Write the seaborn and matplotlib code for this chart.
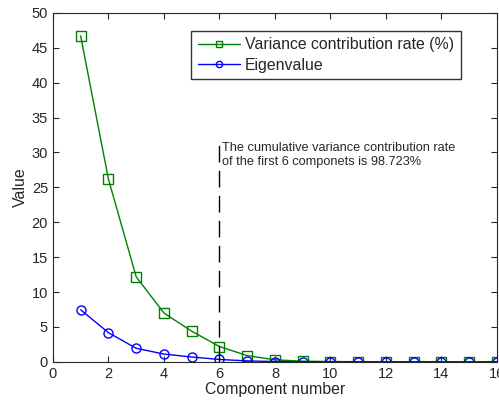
import numpy as np
import pandas as pd
import matplotlib
matplotlib.use("Agg")
import matplotlib.pyplot as plt
import seaborn as sns

components = list(range(1, 17))
variance_rate = [46.7, 26.2, 12.2, 7.0, 4.4, 2.2, 0.9, 0.3, 0.1, 0.05, 0.03, 0.02, 0.01, 0.01, 0.0, 0.0]
eigenvalue = [7.47, 4.19, 1.95, 1.12, 0.70, 0.35, 0.14, 0.05, 0.016, 0.008, 0.005, 0.003, 0.002, 0.001, 0.0, 0.0]
note = "The cumulative variance contribution rate\nof the first 6 componets is 98.723%"

sns.set_style("ticks")
plt.rcParams['font.family'] = ['Liberation Sans', 'DejaVu Sans']

df = pd.DataFrame({'Component': components, 'Variance': variance_rate, 'Eigen': eigenvalue})

fig = plt.figure(figsize=(4.99, 4.03), dpi=100)
ax = fig.add_axes([0.106, 0.102, 0.89, 0.866])

sns.lineplot(data=df, x='Component', y='Variance', ax=ax, color=(0, 0.5, 0), lw=1,
             marker='s', markersize=6.5, markerfacecolor='none', markeredgecolor=(0, 0.5, 0),
             markeredgewidth=1, label='Variance contribution rate (%)')
sns.lineplot(data=df, x='Component', y='Eigen', ax=ax, color=(0, 0, 1), lw=1,
             marker='o', markersize=6.5, markerfacecolor='none', markeredgecolor=(0, 0, 1),
             markeredgewidth=1, label='Eigenvalue')

# dashed marker at the 6th component
ax.plot([6, 6], [0, 31.4], color='black', lw=1, dashes=(12, 6))
ax.text(6.08, 29.6, note, fontsize=9.2, va='center', ha='left', linespacing=1.2)

ax.set_xlim(0, 16)
ax.set_ylim(0, 50)
ax.set_xticks(range(0, 17, 2))
ax.set_yticks(range(0, 51, 5))
ax.tick_params(direction='in', top=True, right=True, labelsize=10.5, length=4, width=0.8)
for s in ax.spines.values():
    s.set_linewidth(0.8)
ax.set_xlabel('Component number', fontsize=11.4, labelpad=1)
ax.set_ylabel('Value', fontsize=11.4, labelpad=3)

leg = ax.legend(loc='upper right', bbox_to_anchor=(0.918, 0.948), fontsize=11.4, frameon=True,
                fancybox=False, edgecolor='black', borderpad=0.4, handlelength=2.7,
                handletextpad=0.3, labelspacing=0.35, borderaxespad=0, markerscale=0.7)
leg.get_frame().set_linewidth(1)

fig.savefig('out.png', dpi=100)
